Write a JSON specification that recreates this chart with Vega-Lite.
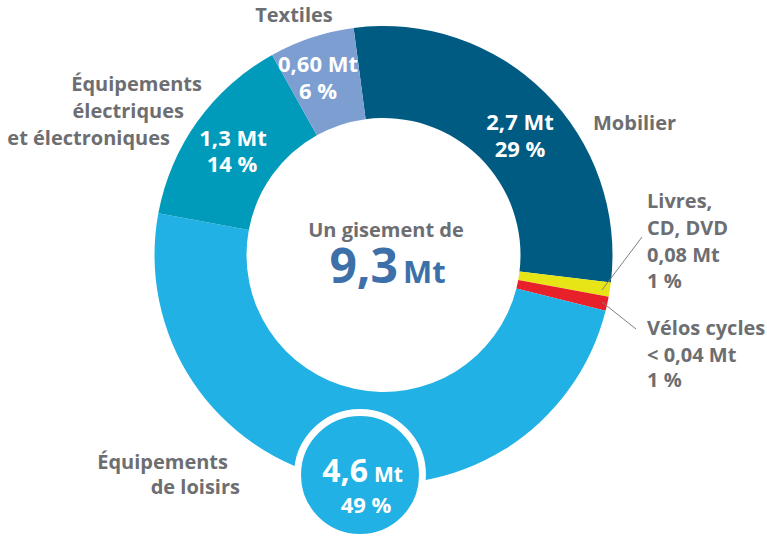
{
  "$schema": "https://vega.github.io/schema/vega-lite/v6.json",
  "width": 767,
  "height": 510,
  "autosize": {"type": "none"},
  "padding": {"left": 0, "right": 0, "top": 0, "bottom": 35},
  "background": "white",
  "config": {"view": {"stroke": null}, "text": {"font": "Open Sans", "fontWeight": "bold"}},
  "datasets": {
    "donut": [
      {"cat": "Mobilier", "mt": 2.7, "pct": 29, "ord": 1},
      {"cat": "Livres, CD, DVD", "mt": 0.08, "pct": 1, "ord": 2},
      {"cat": "Vélos cycles", "mt": 0.04, "pct": 1, "ord": 3},
      {"cat": "Équipements de loisirs", "mt": 4.6, "pct": 49, "ord": 4},
      {"cat": "Équipements électriques et électroniques", "mt": 1.3, "pct": 14, "ord": 5},
      {"cat": "Textiles", "mt": 0.6, "pct": 6, "ord": 6}
    ],
    "leaders": [
      {"cat": "Livres, CD, DVD", "x": 218.5, "y": 35, "x2": 258.5, "y2": -18},
      {"cat": "Vélos cycles", "x": 218.5, "y": 47, "x2": 252.5, "y2": 74}
    ],
    "bulge": [{"cat": "Équipements de loisirs", "x": -23.5, "y": 220}],
    "grayLeft": [
      {"t": "Mobilier", "x": 209.5, "y": -125},
      {"t": "Livres,", "x": 263.5, "y": -47},
      {"t": "CD, DVD", "x": 263.5, "y": -20},
      {"t": "0,08 Mt", "x": 263.5, "y": 7},
      {"t": "1 %", "x": 263.5, "y": 33},
      {"t": "Vélos cycles", "x": 263.5, "y": 80},
      {"t": "< 0,04 Mt", "x": 263.5, "y": 107},
      {"t": "1 %", "x": 263.5, "y": 132}
    ],
    "grayRight": [
      {"t": "Équipements", "x": -181.5, "y": -164},
      {"t": "électriques", "x": -199.5, "y": -137},
      {"t": "et électroniques", "x": -213.5, "y": -110},
      {"t": "Équipements", "x": -155.5, "y": 214},
      {"t": "de loisirs", "x": -143.5, "y": 239}
    ],
    "grayCenter": [
      {"t": "Textiles", "x": -89.5, "y": -233},
      {"t": "Un gisement de", "x": 2.5, "y": -18}
    ],
    "whiteVals": [
      {"t": "2,7 Mt", "x": 136.5, "y": -125},
      {"t": "29 %", "x": 136.5, "y": -98},
      {"t": "0,60 Mt", "x": -65.5, "y": -183},
      {"t": "6 %", "x": -65.5, "y": -156},
      {"t": "1,3 Mt", "x": -150.5, "y": -109},
      {"t": "14 %", "x": -151.5, "y": -83},
      {"t": "49 %", "x": -17.5, "y": 258}
    ],
    "bulgeBig": [{"t": "4,6", "x": -15.5, "y": 227}],
    "bulgeUnit": [{"t": "Mt", "x": -9.5, "y": 227}],
    "totalBig": [{"t": "9,3", "x": 14.5, "y": 28}],
    "totalUnit": [{"t": "Mt", "x": 19.5, "y": 28}]
  },
  "layer": [
    {
      "data": {"name": "donut"},
      "mark": {"type": "arc", "innerRadius": 137, "outerRadius": 229},
      "encoding": {
        "theta": {"field": "pct", "type": "quantitative", "stack": true, "scale": {"range": [-0.1309, 6.1523]}},
        "order": {"field": "ord", "type": "quantitative"},
        "color": {
          "field": "cat", "type": "nominal", "legend": null,
          "scale": {
            "domain": ["Mobilier", "Livres, CD, DVD", "Vélos cycles", "Équipements de loisirs", "Équipements électriques et électroniques", "Textiles"],
            "range": ["#005b82", "#e8e517", "#e8202a", "#22b1e4", "#009bbb", "#7c9ed1"]
          }
        }
      }
    },
    {
      "data": {"name": "leaders"},
      "mark": {"type": "rule", "color": "#808080", "strokeWidth": 1},
      "encoding": {
        "x": {"field": "x", "type": "quantitative", "axis": null, "scale": {"domain": [-383.5, 383.5], "nice": false, "zero": false}},
        "y": {"field": "y", "type": "quantitative", "axis": null, "scale": {"domain": [-255, 255], "nice": false, "zero": false, "reverse": true}},
        "x2": {"field": "x2"},
        "y2": {"field": "y2"}
      }
    },
    {
      "data": {"name": "bulge"},
      "mark": {"type": "point", "shape": "circle", "filled": true, "fill": "#22b1e4", "stroke": "white", "strokeWidth": 7, "opacity": 1, "size": 15615},
      "encoding": {
        "x": {"field": "x", "type": "quantitative", "axis": null, "scale": {"domain": [-383.5, 383.5], "nice": false, "zero": false}},
        "y": {"field": "y", "type": "quantitative", "axis": null, "scale": {"domain": [-255, 255], "nice": false, "zero": false, "reverse": true}}
      }
    },
    {
      "data": {"name": "grayLeft"},
      "mark": {"type": "text", "align": "left", "baseline": "alphabetic", "fontSize": 20, "color": "#6d6e71"},
      "encoding": {
        "x": {"field": "x", "type": "quantitative", "axis": null, "scale": {"domain": [-383.5, 383.5], "nice": false, "zero": false}},
        "y": {"field": "y", "type": "quantitative", "axis": null, "scale": {"domain": [-255, 255], "nice": false, "zero": false, "reverse": true}},
        "text": {"field": "t"}
      }
    },
    {
      "data": {"name": "grayRight"},
      "mark": {"type": "text", "align": "right", "baseline": "alphabetic", "fontSize": 20, "color": "#6d6e71"},
      "encoding": {
        "x": {"field": "x", "type": "quantitative", "axis": null, "scale": {"domain": [-383.5, 383.5], "nice": false, "zero": false}},
        "y": {"field": "y", "type": "quantitative", "axis": null, "scale": {"domain": [-255, 255], "nice": false, "zero": false, "reverse": true}},
        "text": {"field": "t"}
      }
    },
    {
      "data": {"name": "grayCenter"},
      "mark": {"type": "text", "align": "center", "baseline": "alphabetic", "fontSize": 20, "color": "#6d6e71"},
      "encoding": {
        "x": {"field": "x", "type": "quantitative", "axis": null, "scale": {"domain": [-383.5, 383.5], "nice": false, "zero": false}},
        "y": {"field": "y", "type": "quantitative", "axis": null, "scale": {"domain": [-255, 255], "nice": false, "zero": false, "reverse": true}},
        "text": {"field": "t"}
      }
    },
    {
      "data": {"name": "whiteVals"},
      "mark": {"type": "text", "align": "center", "baseline": "alphabetic", "fontSize": 22, "color": "white"},
      "encoding": {
        "x": {"field": "x", "type": "quantitative", "axis": null, "scale": {"domain": [-383.5, 383.5], "nice": false, "zero": false}},
        "y": {"field": "y", "type": "quantitative", "axis": null, "scale": {"domain": [-255, 255], "nice": false, "zero": false, "reverse": true}},
        "text": {"field": "t"}
      }
    },
    {
      "data": {"name": "bulgeBig"},
      "mark": {"type": "text", "align": "right", "baseline": "alphabetic", "fontSize": 32, "color": "white"},
      "encoding": {
        "x": {"field": "x", "type": "quantitative", "axis": null, "scale": {"domain": [-383.5, 383.5], "nice": false, "zero": false}},
        "y": {"field": "y", "type": "quantitative", "axis": null, "scale": {"domain": [-255, 255], "nice": false, "zero": false, "reverse": true}},
        "text": {"field": "t"}
      }
    },
    {
      "data": {"name": "bulgeUnit"},
      "mark": {"type": "text", "align": "left", "baseline": "alphabetic", "fontSize": 21, "color": "white"},
      "encoding": {
        "x": {"field": "x", "type": "quantitative", "axis": null, "scale": {"domain": [-383.5, 383.5], "nice": false, "zero": false}},
        "y": {"field": "y", "type": "quantitative", "axis": null, "scale": {"domain": [-255, 255], "nice": false, "zero": false, "reverse": true}},
        "text": {"field": "t"}
      }
    },
    {
      "data": {"name": "totalBig"},
      "mark": {"type": "text", "align": "right", "baseline": "alphabetic", "fontSize": 48, "color": "#3d6fa9"},
      "encoding": {
        "x": {"field": "x", "type": "quantitative", "axis": null, "scale": {"domain": [-383.5, 383.5], "nice": false, "zero": false}},
        "y": {"field": "y", "type": "quantitative", "axis": null, "scale": {"domain": [-255, 255], "nice": false, "zero": false, "reverse": true}},
        "text": {"field": "t"}
      }
    },
    {
      "data": {"name": "totalUnit"},
      "mark": {"type": "text", "align": "left", "baseline": "alphabetic", "fontSize": 31, "color": "#3d6fa9"},
      "encoding": {
        "x": {"field": "x", "type": "quantitative", "axis": null, "scale": {"domain": [-383.5, 383.5], "nice": false, "zero": false}},
        "y": {"field": "y", "type": "quantitative", "axis": null, "scale": {"domain": [-255, 255], "nice": false, "zero": false, "reverse": true}},
        "text": {"field": "t"}
      }
    }
  ]
}
